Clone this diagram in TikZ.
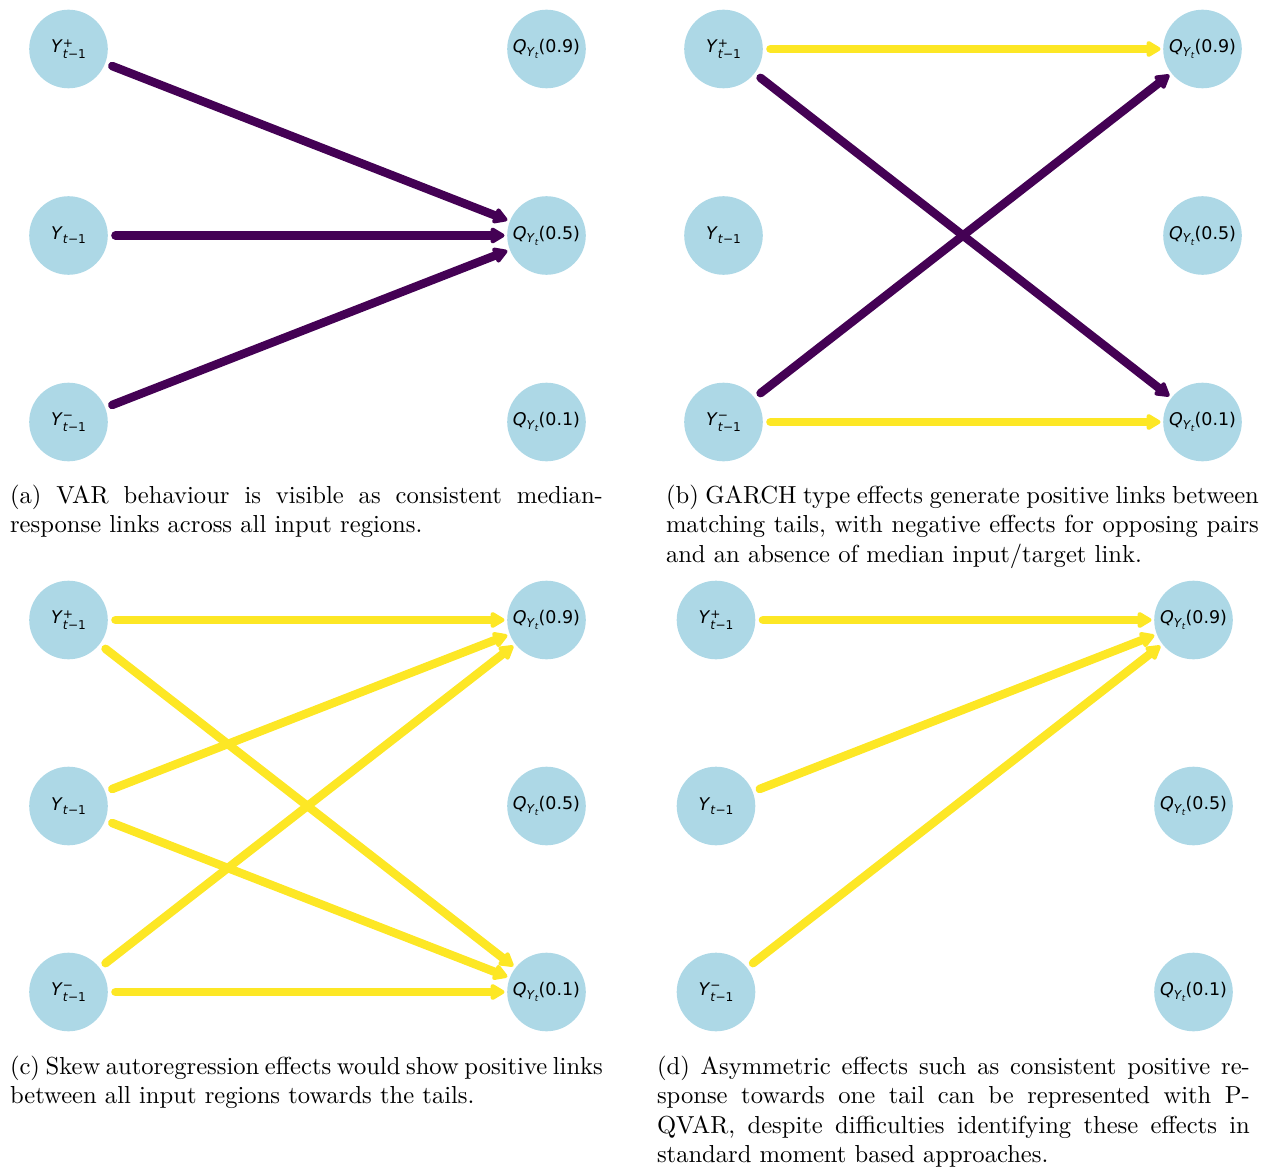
\documentclass[tikz,border=0pt]{standalone}
\usepackage{fontspec}
\newfontfamily\djv{DejaVu Sans}
\usetikzlibrary{arrows.meta}
\definecolor{nodeblue}{RGB}{173,216,230}
\definecolor{vpurple}{HTML}{440154}
\definecolor{vyellow}{HTML}{FDE725}
\newcommand\lsub[1]{{\fontsize{4.95pt}{5pt}\selectfont #1}}
\newcommand\lsubsub[1]{{\fontsize{3.5pt}{4pt}\selectfont #1}}
\newcommand\Ylab[1]{\textit{Y}\lsub{\makebox[0pt][l]{\raisebox{2.3pt}{#1}}\raisebox{-2.4pt}{\textit{t}−1}}}
\newcommand\Ymid{\textit{Y}\lsub{\raisebox{-1.6pt}{\textit{t}−1}}}
\newcommand\Qlab[1]{\textit{Q}\raisebox{-1.6pt}{\lsub{\textit{Y}\raisebox{-0.9pt}{\lsubsub{\textit{t}}}}}(#1)}
\tikzset{
  inp/.style={circle, fill=nodeblue, minimum size=31.95pt, inner sep=0pt, outer sep=0pt,
    font=\djv\fontsize{7.1pt}{8pt}\selectfont},
  lnk/.style={line width=3.45pt, line cap=round,
    -{Triangle[length=6.5pt,width=7.2pt,round]}, shorten <=3.1pt, shorten >=1.1pt},
  neglink/.style={lnk, draw=vpurple},
  poslink/.style={lnk, draw=vyellow},
  capt/.style={anchor=base west, inner sep=0pt, outer sep=0pt}
}
\begin{document}
\begin{tikzpicture}[x=0.4065pt, y=-0.4065pt]
\useasboundingbox (0,0) rectangle (1262,1168);
% ---------- panel (a)
\node[inp] (ayp) at (68.5,49) {\Ylab{+}};
\node[inp] (ay) at (68.5,235.5) {\Ymid};
\node[inp] (aym) at (68.5,422) {\Ylab{−}};
\node[inp] (aq9) at (546.5,49) {\Qlab{0.9}};
\node[inp] (aq5) at (546.5,235.5) {\Qlab{0.5}};
\node[inp] (aq1) at (546.5,422) {\Qlab{0.1}};
\draw[neglink] (ayp) -- (aq5);
\draw[neglink] (ay) -- (aq5);
\draw[neglink] (aym) -- (aq5);
% ---------- panel (b)
\node[inp] (byp) at (723.5,49) {\Ylab{+}};
\node[inp] (by) at (723.5,235.5) {\Ymid};
\node[inp] (bym) at (723.5,422) {\Ylab{−}};
\node[inp] (bq9) at (1202.5,49) {\Qlab{0.9}};
\node[inp] (bq5) at (1202.5,235.5) {\Qlab{0.5}};
\node[inp] (bq1) at (1202.5,422) {\Qlab{0.1}};
\draw[poslink] (byp) -- (bq9);
\draw[neglink] (byp) -- (bq1);
\draw[neglink] (bym) -- (bq9);
\draw[poslink] (bym) -- (bq1);
% ---------- panel (c)
\node[inp] (cyp) at (68.5,620) {\Ylab{+}};
\node[inp] (cy) at (68.5,806) {\Ymid};
\node[inp] (cym) at (68.5,992) {\Ylab{−}};
\node[inp] (cq9) at (546.5,620) {\Qlab{0.9}};
\node[inp] (cq5) at (546.5,806) {\Qlab{0.5}};
\node[inp] (cq1) at (546.5,992) {\Qlab{0.1}};
\draw[poslink] (cyp) -- (cq9);
\draw[poslink] (cyp) -- (cq1);
\draw[poslink] (cy) -- (cq9);
\draw[poslink] (cy) -- (cq1);
\draw[poslink] (cym) -- (cq9);
\draw[poslink] (cym) -- (cq1);
% ---------- panel (d)
\node[inp] (dyp) at (716,620) {\Ylab{+}};
\node[inp] (dy) at (716,806) {\Ymid};
\node[inp] (dym) at (716,992) {\Ylab{−}};
\node[inp] (dq9) at (1193.5,620) {\Qlab{0.9}};
\node[inp] (dq5) at (1193.5,806) {\Qlab{0.5}};
\node[inp] (dq1) at (1193.5,992) {\Qlab{0.1}};
\draw[poslink] (dyp) -- (dq9);
\draw[poslink] (dy) -- (dq9);
\draw[poslink] (dym) -- (dq9);
% ---------- captions
\node[capt] (capa) at (10,503) {\parbox[t]{241pt}{(a) VAR behaviour is visible as consistent median-\linebreak response links across all input regions.}};
\node[capt] (capb) at (666,503) {\parbox[t]{241pt}{(b) GARCH type effects generate positive links between\linebreak matching tails, with negative effects for opposing pairs\linebreak and an absence of median input/target link.}};
\node[capt] (capc) at (10,1074) {\parbox[t]{241pt}{(c) Skew autoregression effects would show positive links\linebreak between all input regions towards the tails.}};
\node[capt] (capd) at (657,1074) {\parbox[t]{241pt}{(d) Asymmetric effects such as consistent positive re-\linebreak sponse towards one tail can be represented with P-\linebreak QVAR, despite difficulties identifying these effects in\linebreak standard moment based approaches.}};
\end{tikzpicture}
\end{document}
